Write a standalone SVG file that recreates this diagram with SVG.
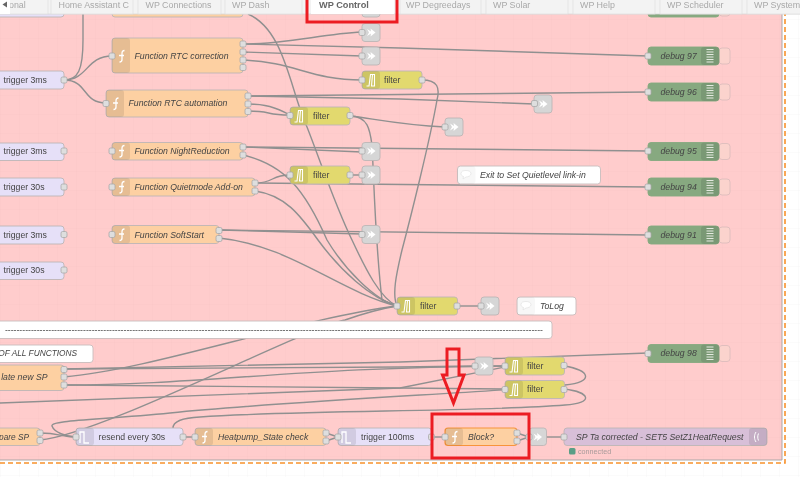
<svg xmlns="http://www.w3.org/2000/svg" width="800" height="477" viewBox="0 0 800 477">
<style>
text{font-family:"Liberation Sans",Arial,sans-serif;font-size:8.7px;fill:#444;dominant-baseline:central}
.i{font-style:italic}
.n{stroke:#bdb5b5;stroke-width:.9}
.fn{fill:#fdd0a2}.tr{fill:#e6e0f8}.fi{fill:#e2d96e}.db{fill:#87a980;stroke:#87a980}.ln{fill:#d6d6d6}.cm{fill:#fff;stroke:#c8bcbc}.mq{fill:#d8bfd8}
.bd{fill:#000;fill-opacity:.09}
.w path{fill:none;stroke:#909090;stroke-width:1.4}
.tab{fill:#f3f3f3;stroke:#dedede;stroke-width:.7}
.tt{fill:#a9a9a9;font-size:8.9px}
.red{fill:none;stroke:#ec1c24;stroke-width:3}
.tail{fill:#fbd3cd;stroke:#dcbcbc;stroke-width:.9}
</style>
<defs>
<filter id="soft" filterUnits="userSpaceOnUse" x="0" y="0" width="800" height="477"><feGaussianBlur stdDeviation=".3"/></filter>
<pattern id="g1" width="19" height="19" patternUnits="userSpaceOnUse"><path d="M19 0H0V19" fill="none" stroke="#f6c4c4" stroke-width=".5"/></pattern>
<pattern id="g2" width="19" height="19" patternUnits="userSpaceOnUse"><path d="M19 0H0V19" fill="none" stroke="#eeeeee" stroke-width=".5"/></pattern>
<rect id="p" x="-3" y="-3" width="6" height="6" rx="1.600" fill="#dedede" stroke="#a8a8a8" stroke-width=".8"/>
<path id="if" d="M3.500 -5.500C1.500 -5.500 1 -4 1 -2.500V3.500C1 5 .5 6 -1.500 6M-2 -.5H3" fill="none" stroke="#fff" stroke-width="1.300"/>
<path id="is" d="M-4.500 6H-2L-.5 -5.500H3.500V6H.5L1.500 -5.500" fill="none" stroke="#fff" stroke-width="1.100"/>
<path id="il" d="M-4 -3.500L0 -1L-.5 -4L4.500 0L-.5 4L0 1L-4 3.500L-2 0Z" fill="#fff"/>
<path id="it" d="M-5 6V-5H-1V6H4" fill="none" stroke="#fff" stroke-width="1.300"/>
<path id="id" d="M-3.500 -6H3.500M-3.500 -3.500H3.500M-3.500 -1H3.500M-3.500 1.500H3.500M-3.500 4H3.500M-3.500 6.500H3.500" stroke="#e3eadf" stroke-width="1.100"/>
<path id="ic" d="M-5 -1.500C-5 -4 -2.500 -4.500 0 -4.500S5 -3.500 5 -1.500S2.500 2 0 2L-3 4L-2.500 1.500C-4 1 -5 0 -5 -1.500Z" fill="#fff" stroke="#ddd" stroke-width=".6"/>
</defs>

<g filter="url(#soft)">
<rect width="800" height="477" fill="#fff"/>
<rect width="800" height="477" fill="url(#g2)"/>
<rect x="0" y="14" width="782" height="446" fill="#ffcccc"/>
<rect x="0" y="14" width="782" height="446" fill="url(#g1)"/>
<path d="M0 460H782V14" fill="none" stroke="#a0a0a0" stroke-width=".9"/>
<path d="M0 463H785V14" fill="none" stroke="#f8922c" stroke-width="1.600" stroke-dasharray="5 3"/>

<g id="connectors" class="w">
<path d="M64 80C78 80 83 70 83 40V14"/>
<path d="M64 80C88 80 86 56 112 56"/>
<path d="M64 80C88 80 82 103 106 103"/>
<path d="M243 44C290 44 320 34 362 32"/>
<path d="M243 44L400 48L648 56"/>
<path d="M243 52L362 56"/>
<path d="M243 60C295 62 310 80 362 80"/>
<path d="M422 80C438 80 440 88 437 100C430 140 410 220 402 250C396 275 392 295 397 306"/>
<path d="M248 96L648 92"/>
<path d="M248 96L400 99L534 104"/>
<path d="M248 104C265 104 275 107 290 115"/>
<path d="M248 111C272 111 265 115 290 115"/>
<path d="M350 116C368 116 370 130 372 145C374 180 375 240 382 300L397 306"/>
<path d="M350 116C370 118 400 125 445 127"/>
<path d="M248 14C285 30 290 90 307 127C320 160 335 205 352 240C366 270 380 298 397 306"/>
<path d="M243 147L362 152"/>
<path d="M243 147L648 151"/>
<path d="M243 155C285 165 305 190 327 240C345 270 375 300 397 306"/>
<path d="M255 183C275 183 270 175 290 175"/>
<path d="M255 183L648 187"/>
<path d="M350 175L362 175"/>
<path d="M255 191C285 195 300 215 318 240C340 270 370 298 397 306"/>
<path d="M219 230L362 234"/>
<path d="M219 230L648 235"/>
<path d="M219 238C290 245 340 292 397 306"/>
<path d="M64 377C150 370 300 318 397 306"/>
<path d="M40 440C100 435 300 330 345 320C365 313 385 308 397 306"/>
<path d="M64 369L400 362L648 353"/>
<path d="M64 369L400 367L475 366"/>
<path d="M64 385C200 385 300 367 505 366"/>
<path d="M64 385L400 388L505 389"/>
<path d="M0 403L400 388L505 367"/>
<path d="M493 366H505"/>
<path d="M564 366C590 370 595 382 565 385C500 392 300 400 170 413C100 420 50 420 52 426C54 432 66 437 76 437"/>
<path d="M564 389C590 392 595 403 565 405C480 412 300 410 200 417C180 418 173 422 173 428"/>
<path d="M40 433C60 433 60 437 76 437"/>
<path d="M183 437H195"/>
<path d="M326 433L338 437M326 441L338 437"/>
<path d="M431 437H445"/>
<path d="M517 433L529 437M517 441L529 437"/>
<path d="M546 437H564"/>
<path d="M457 306H481"/>
</g>

<g id="n-top">
<rect class="n tr" x="-6" y="5" width="70" height="12" rx="3"/>
<rect class="n fn" x="112" y="5" width="131" height="12" rx="3"/>
<rect class="n ln" x="362" y="5" width="18" height="12" rx="3"/>
<rect class="n db" x="648" y="5" width="71" height="12" rx="3"/>
<rect class="tail" x="719" y="5" width="11" height="11" rx="3"/>
</g>

<g id="t1"><rect class="n tr" x="-6" y="71" width="70" height="18" rx="3"/><text x="3.500" y="80">trigger 3ms</text><use href="#p" x="64" y="80"/></g>
<g id="f1"><rect class="n fn" x="112" y="38" width="131" height="35" rx="3"/><rect class="bd" x="112" y="38" width="18" height="35" rx="3"/><use href="#if" x="121" y="56"/><text class="i" x="134.500" y="55.500">Function RTC correction</text><use href="#p" x="112" y="56"/><use href="#p" x="243" y="44"/><use href="#p" x="243" y="52"/><use href="#p" x="243" y="60"/><use href="#p" x="243" y="67.500"/></g>
<g id="f2"><rect class="n fn" x="106" y="90" width="142" height="27" rx="3"/><rect class="bd" x="106" y="90" width="18" height="27" rx="3"/><use href="#if" x="115" y="103.500"/><text class="i" x="128.500" y="103">Function RTC automation</text><use href="#p" x="106" y="103.500"/><use href="#p" x="248" y="96"/><use href="#p" x="248" y="104"/><use href="#p" x="248" y="111.500"/></g>

<g id="l1"><rect class="n ln" x="362" y="23.500" width="18" height="18" rx="3"/><use href="#il" x="371" y="32.500"/><use href="#p" x="362" y="32.500"/></g>
<g id="l2"><rect class="n ln" x="362" y="47" width="18" height="18" rx="3"/><use href="#il" x="371" y="56"/><use href="#p" x="362" y="56"/></g>
<g id="fi1"><rect class="n fi" x="362" y="71" width="60" height="18" rx="3"/><rect class="bd" x="362" y="71" width="18" height="18" rx="3"/><use href="#is" x="371" y="80"/><text x="384" y="80">filter</text><use href="#p" x="362" y="80"/><use href="#p" x="422" y="80"/></g>
<g id="fi2"><rect class="n fi" x="290" y="107" width="60" height="18" rx="3"/><rect class="bd" x="290" y="107" width="18" height="18" rx="3"/><use href="#is" x="299" y="116"/><text x="313" y="115.500">filter</text><use href="#p" x="290" y="115.500"/><use href="#p" x="350" y="115.500"/></g>
<g id="l3"><rect class="n ln" x="534" y="95" width="18" height="18" rx="3"/><use href="#il" x="543" y="104"/><use href="#p" x="534.500" y="103.500"/></g>
<g id="l4"><rect class="n ln" x="445" y="118" width="18" height="18" rx="3"/><use href="#il" x="454" y="127"/><use href="#p" x="445" y="127"/></g>

<g id="t2"><rect class="n tr" x="-6" y="143" width="70" height="17.500" rx="3"/><text x="3.500" y="151">trigger 3ms</text><use href="#p" x="64" y="151"/></g>
<g id="f3"><rect class="n fn" x="112" y="142.500" width="131" height="17.500" rx="3"/><rect class="bd" x="112" y="142.500" width="18" height="17.500" rx="3"/><use href="#if" x="121" y="151"/><text class="i" x="134.500" y="151">Function NightReduction</text><use href="#p" x="112" y="151"/><use href="#p" x="243" y="147"/><use href="#p" x="243" y="155"/></g>
<g id="l5"><rect class="n ln" x="362" y="142.500" width="18" height="18" rx="3"/><use href="#il" x="371" y="151"/><use href="#p" x="362" y="151"/></g>
<g id="t3"><rect class="n tr" x="-6" y="178" width="70" height="18" rx="3"/><text x="3.500" y="187">trigger 30s</text><use href="#p" x="64" y="187"/></g>
<g id="f4"><rect class="n fn" x="112" y="178" width="143" height="18" rx="3"/><rect class="bd" x="112" y="178" width="18" height="18" rx="3"/><use href="#if" x="121" y="187"/><text class="i" x="134.500" y="187">Function Quietmode Add-on</text><use href="#p" x="112" y="187"/><use href="#p" x="255" y="183"/><use href="#p" x="255" y="191"/></g>
<g id="fi3"><rect class="n fi" x="290" y="166" width="60" height="18" rx="3"/><rect class="bd" x="290" y="166" width="18" height="18" rx="3"/><use href="#is" x="299" y="175"/><text x="313" y="175">filter</text><use href="#p" x="290" y="175"/><use href="#p" x="350" y="175"/></g>
<g id="l6"><rect class="n ln" x="362" y="166" width="18" height="18" rx="3"/><use href="#il" x="371" y="175"/><use href="#p" x="362" y="175"/></g>
<g id="t4"><rect class="n tr" x="-6" y="226" width="70" height="18" rx="3"/><text x="3.500" y="234.500">trigger 3ms</text><use href="#p" x="64" y="234.500"/></g>
<g id="f5"><rect class="n fn" x="112" y="225.500" width="107" height="18" rx="3"/><rect class="bd" x="112" y="225.500" width="18" height="18" rx="3"/><use href="#if" x="121" y="234.500"/><text class="i" x="134.500" y="234.500">Function SoftStart</text><use href="#p" x="112" y="234.500"/><use href="#p" x="219" y="230.500"/><use href="#p" x="219" y="238.500"/></g>
<g id="l7"><rect class="n ln" x="362" y="225.500" width="18" height="18" rx="3"/><use href="#il" x="371" y="234.500"/><use href="#p" x="362" y="234.500"/></g>
<g id="t5"><rect class="n tr" x="-6" y="262" width="70" height="17.500" rx="3"/><text x="3.500" y="270">trigger 30s</text><use href="#p" x="64" y="270"/></g>

<g id="d97"><rect class="tail" x="719" y="48" width="11" height="16" rx="3"/><rect class="n db" x="648" y="47" width="71" height="18" rx="3"/><rect class="bd" x="701" y="47" width="18" height="18" rx="3"/><use href="#id" x="710" y="55.500"/><text class="i" x="660.500" y="55.500">debug 97</text><use href="#p" x="648" y="56"/></g>
<g id="d96"><rect class="tail" x="719" y="84" width="11" height="16" rx="3"/><rect class="n db" x="648" y="83" width="71" height="18" rx="3"/><rect class="bd" x="701" y="83" width="18" height="18" rx="3"/><use href="#id" x="710" y="91.500"/><text class="i" x="660.500" y="91.500">debug 96</text><use href="#p" x="648" y="92"/></g>
<g id="d95"><rect class="tail" x="719" y="143.500" width="11" height="16" rx="3"/><rect class="n db" x="648" y="142.500" width="71" height="18" rx="3"/><rect class="bd" x="701" y="142.500" width="18" height="18" rx="3"/><use href="#id" x="710" y="151"/><text class="i" x="660.500" y="151">debug 95</text><use href="#p" x="648" y="151"/></g>
<g id="d94"><rect class="tail" x="719" y="179" width="11" height="16" rx="3"/><rect class="n db" x="648" y="178" width="71" height="18" rx="3"/><rect class="bd" x="701" y="178" width="18" height="18" rx="3"/><use href="#id" x="710" y="186.500"/><text class="i" x="660.500" y="187">debug 94</text><use href="#p" x="648" y="187"/></g>
<g id="d91"><rect class="tail" x="719" y="227" width="11" height="16" rx="3"/><rect class="n db" x="648" y="226" width="71" height="18" rx="3"/><rect class="bd" x="701" y="226" width="18" height="18" rx="3"/><use href="#id" x="710" y="234.500"/><text class="i" x="660.500" y="234.500">debug 91</text><use href="#p" x="648" y="235"/></g>
<g id="d98"><rect class="tail" x="719" y="345.500" width="11" height="16" rx="3"/><rect class="n db" x="648" y="344.500" width="71" height="18" rx="3"/><rect class="bd" x="701" y="344.500" width="18" height="18" rx="3"/><use href="#id" x="710" y="353"/><text class="i" x="660.500" y="353">debug 98</text><use href="#p" x="648" y="353.500"/></g>

<g id="c1"><rect class="n cm" x="457.500" y="166" width="143" height="18" rx="3"/><rect class="bd" x="457.500" y="166" width="18" height="18" rx="3" style="fill-opacity:.03"/><use href="#ic" x="466" y="175"/><text class="i" x="480" y="175">Exit to Set Quietlevel link-in</text></g>

<g id="fi4"><rect class="n fi" x="397" y="297" width="60.500" height="18" rx="3"/><rect class="bd" x="397" y="297" width="18" height="18" rx="3"/><use href="#is" x="406" y="306"/><text x="420" y="306">filter</text><use href="#p" x="397" y="306"/><use href="#p" x="457" y="306"/></g>
<g id="l8"><rect class="n ln" x="481" y="297" width="18" height="18" rx="3"/><use href="#il" x="490" y="306"/><use href="#p" x="481" y="306"/></g>
<g id="c2"><rect class="n cm" x="517" y="297" width="59" height="18" rx="3"/><rect class="bd" x="517" y="297" width="18" height="18" rx="3" style="fill-opacity:.03"/><use href="#ic" x="526" y="306"/><text class="i" x="540" y="306">ToLog</text></g>

<g id="c3"><rect class="n cm" x="-6" y="321" width="558" height="17.500" rx="3"/><text x="543" y="329.500" text-anchor="end">------------------------------------------------------------------------------------------------------------------------------------------------------------------------------------------</text></g>
<g id="c4"><rect class="n cm" x="-6" y="345" width="99" height="17.500" rx="3"/><text class="i" x="77" y="353" text-anchor="end" style="font-size:8.300px">OF ALL FUNCTIONS</text></g>
<g id="f6"><rect class="n fn" x="-6" y="365" width="70" height="25.500" rx="3"/><text class="i" x="47.500" y="377" text-anchor="end">late new SP</text><use href="#p" x="64" y="369.500"/><use href="#p" x="64" y="377"/><use href="#p" x="64" y="385"/></g>
<g id="l9"><rect class="n ln" x="475" y="357" width="18" height="18" rx="3"/><use href="#il" x="484" y="366"/><use href="#p" x="475" y="366"/></g>
<g id="fi5"><rect class="n fi" x="505" y="357" width="59.500" height="18" rx="3"/><rect class="bd" x="505" y="357" width="18" height="18" rx="3"/><use href="#is" x="514" y="366"/><text x="527" y="365.500">filter</text><use href="#p" x="505" y="366"/><use href="#p" x="564" y="365.500"/></g>
<g id="fi6"><rect class="n fi" x="505" y="380.500" width="59.500" height="18" rx="3"/><rect class="bd" x="505" y="380.500" width="18" height="18" rx="3"/><use href="#is" x="514" y="389.500"/><text x="527" y="389">filter</text><use href="#p" x="505" y="389.500"/><use href="#p" x="564" y="389.500"/></g>

<g id="f7"><rect class="n fn" x="-6" y="428" width="46" height="17.500" rx="3"/><text class="i" x="29" y="437" text-anchor="end" style="font-size:8.300px">pare SP</text><use href="#p" x="40" y="433"/><use href="#p" x="40" y="440.500"/></g>
<g id="t6"><rect class="n tr" x="76" y="428" width="107" height="17.500" rx="3"/><rect class="bd" x="76" y="428" width="18" height="17.500" rx="3"/><use href="#it" x="85" y="437"/><text x="98.500" y="437">resend every 30s</text><use href="#p" x="76" y="437"/><use href="#p" x="183" y="437"/></g>
<g id="f8"><rect class="n fn" x="195" y="428" width="131" height="17.500" rx="3"/><rect class="bd" x="195" y="428" width="18" height="17.500" rx="3"/><use href="#if" x="204" y="437"/><text class="i" x="218" y="437">Heatpump_State check</text><use href="#p" x="195" y="437"/><use href="#p" x="326" y="433"/><use href="#p" x="326" y="441"/></g>
<g id="t7"><rect class="n tr" x="338" y="428" width="93.500" height="17.500" rx="3"/><rect class="bd" x="338" y="428" width="18" height="17.500" rx="3"/><use href="#it" x="347" y="437"/><text x="361" y="437">trigger 100ms</text><use href="#p" x="338" y="437"/><use href="#p" x="431.500" y="437"/></g>
<g id="f9"><rect x="445" y="428" width="72" height="17.500" rx="3" fill="#fdd0a2" stroke="#f8943a" stroke-width="1.200"/><rect class="bd" x="445" y="428" width="18" height="17.500" rx="3"/><use href="#if" x="454" y="437"/><text class="i" x="468" y="437">Block?</text><use href="#p" x="445" y="437"/><use href="#p" x="517" y="433"/><use href="#p" x="517" y="441"/></g>
<g id="l10"><rect class="n ln" x="529" y="428" width="17.500" height="17.500" rx="3"/><use href="#il" x="537.500" y="437"/><use href="#p" x="529" y="437"/></g>
<g id="m1"><rect class="n mq" x="564" y="428" width="203" height="17.500" rx="3"/><rect class="bd" x="749" y="428" width="18" height="17.500" rx="3"/><path d="M756 432C754 435 754 439 756 442M758.500 433.500C757.500 435.500 757.500 438.500 758.500 440.500" fill="none" stroke="#fff" stroke-width="1"/><text class="i" x="576" y="437">SP Ta corrected - SET5 SetZ1HeatRequest</text><use href="#p" x="564" y="437"/><rect x="569" y="448" width="6.500" height="6.500" rx="1.500" fill="#5a9e86"/><text x="578" y="451.500" style="font-size:7.200px;fill:#a89a9a">connected</text></g>

<g id="tabs">
<rect x="0" y="0" width="800" height="14" fill="#f3f3f3"/>
<path d="M0 14H800" stroke="#d8d8d8" stroke-width=".8"/>
<rect class="tab" x="-2" y="-2" width="50" height="16"/><text class="tt" x="9" y="4.500">onal</text>
<rect x="0" y="0" width="10" height="14" fill="#fff"/><path d="M7 1.500V7.500L2.500 4.500Z" fill="#666"/>
<rect class="tab" x="51" y="-2" width="82" height="16"/><text class="tt" x="58.500" y="4.500">Home Assistant C</text>
<rect class="tab" x="138" y="-2" width="83" height="16"/><text class="tt" x="145.500" y="4.500">WP Connections</text>
<rect class="tab" x="225" y="-2" width="77" height="16"/><text class="tt" x="232" y="4.500">WP Dash</text>
<rect x="311" y="-2" width="83" height="16" fill="#fff"/><text x="319" y="4.500" style="font-size:9.200px;font-weight:bold;fill:#666">WP Control</text>
<rect class="tab" x="400" y="-2" width="81" height="16"/><text class="tt" x="406" y="4.500">WP Degreedays</text>
<rect class="tab" x="486" y="-2" width="82" height="16"/><text class="tt" x="493" y="4.500">WP Solar</text>
<rect class="tab" x="573" y="-2" width="82" height="16"/><text class="tt" x="580" y="4.500">WP Help</text>
<rect class="tab" x="660" y="-2" width="82" height="16"/><text class="tt" x="667" y="4.500">WP Scheduler</text>
<rect class="tab" x="747" y="-2" width="60" height="16"/><text class="tt" x="754" y="4.500">WP System</text>
</g>

<g id="annotations">
<rect class="red" x="307" y="-4" width="90" height="26"/>
<rect class="red" x="432" y="414" width="97" height="44"/>
<path class="red" d="M447 349H459V375H464L453.500 403L442.500 375H447Z"/>
</g>
</g>
</svg>
